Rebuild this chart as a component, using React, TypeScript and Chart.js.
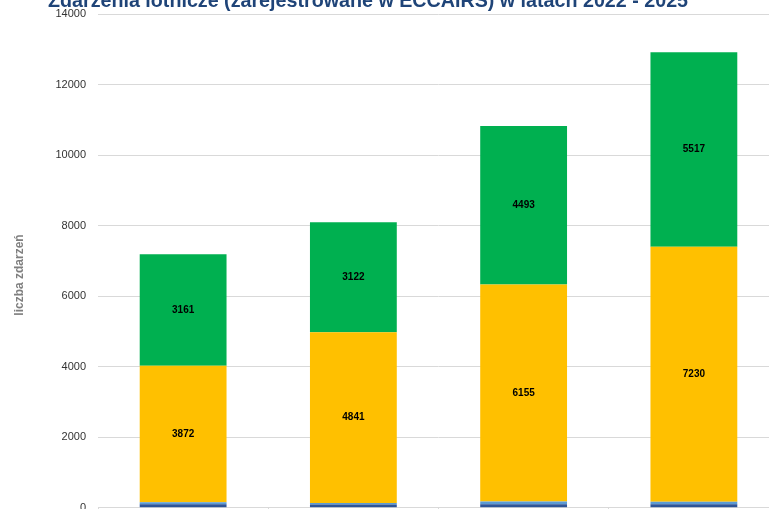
import React, { useEffect, useRef } from "react";
import { Chart, registerables } from "chart.js";

Chart.register(...registerables);

const TITLE = "Zdarzenia lotnicze (zarejestrowane w ECCAIRS) w latach 2022 - 2025";
const Y_TITLE = "liczba zdarzeń";
const years = ["2022", "2023", "2024", "2025"];
const wypadki = [100, 95, 100, 100];
const powazneIncydenty = [55, 40, 76, 71];
const incydenty = [3872, 4841, 6155, 7230];
const pozostale = [3161, 3122, 4493, 5517];
const labelledSeries = [2, 3];

const FONT = "'Liberation Sans', Arial, sans-serif";

const overlay = {
  id: "overlay",
  afterDatasetsDraw(chart: any) {
    const ctx = chart.ctx;
    ctx.save();
    // data labels
    ctx.fillStyle = "#000000";
    ctx.font = `bold 10px ${FONT}`;
    ctx.textAlign = "center";
    ctx.textBaseline = "middle";
    labelledSeries.forEach((di) => {
      const meta = chart.getDatasetMeta(di);
      const data = chart.data.datasets[di].data as number[];
      meta.data.forEach((el: any, i: number) => {
        const cy = (el.y + el.base) / 2;
        ctx.fillText(String(data[i]), el.x, cy);
      });
    });
    // chart title
    ctx.fillStyle = "#1F4478";
    ctx.font = `bold 19.7px ${FONT}`;
    ctx.textAlign = "center";
    ctx.textBaseline = "alphabetic";
    ctx.fillText(TITLE, 368, 7);
    // y axis title
    ctx.translate(20, 275);
    ctx.rotate(-Math.PI / 2);
    ctx.fillStyle = "#7F7F7F";
    ctx.font = `bold 12px ${FONT}`;
    ctx.textAlign = "center";
    ctx.textBaseline = "middle";
    ctx.fillText(Y_TITLE, 0, 0);
    ctx.restore();
  },
};

export default function App() {
  const ref = useRef<HTMLCanvasElement | null>(null);
  useEffect(() => {
    document.body.style.margin = "0";
    document.body.style.overflow = "hidden";
    document.documentElement.style.overflow = "hidden";
    const chart = new Chart(ref.current!, {
      type: "bar",
      data: {
        labels: years,
        datasets: [
          { label: "wypadki", data: wypadki, backgroundColor: "#2F5597" },
          { label: "poważne incydenty", data: powazneIncydenty, backgroundColor: "#5B9BD5" },
          { label: "incydenty", data: incydenty, backgroundColor: "#FFC000" },
          { label: "pozostałe zdarzenia", data: pozostale, backgroundColor: "#00B050" },
        ],
      },
      options: {
        responsive: false,
        animation: false,
        layout: { padding: { top: 14, right: 3, left: 0, bottom: 0 } },
        datasets: { bar: { categoryPercentage: 1, barPercentage: 0.51 } } as any,
        plugins: {
          legend: { display: false },
          title: { display: false },
          tooltip: { enabled: false },
        },
        scales: {
          x: {
            stacked: true,
            grid: { display: true, drawOnChartArea: false, tickLength: 5, color: "#D9D9D9" },
            border: { color: "#D9D9D9" },
            ticks: { font: { family: FONT, size: 11 }, color: "#595959" },
          },
          y: {
            stacked: true,
            min: 0,
            max: 14000,
            ticks: {
              stepSize: 2000,
              padding: 12,
              font: { family: FONT, size: 11 },
              color: "#333333",
              callback: (v: any) => String(v),
            },
            grid: { color: "#D9D9D9", drawTicks: false },
            border: { display: false },
            afterFit(scale: any) {
              scale.width = 98;
              scale.paddingTop = 0;
              scale.paddingBottom = 0;
            },
          },
        },
      },
      plugins: [overlay],
    });
    return () => chart.destroy();
  }, []);
  return (
    <div style={{ position: "absolute", left: 0, top: 0 }}>
      <canvas ref={ref} width={782} height={532} style={{ display: "block" }} />
    </div>
  );
}
